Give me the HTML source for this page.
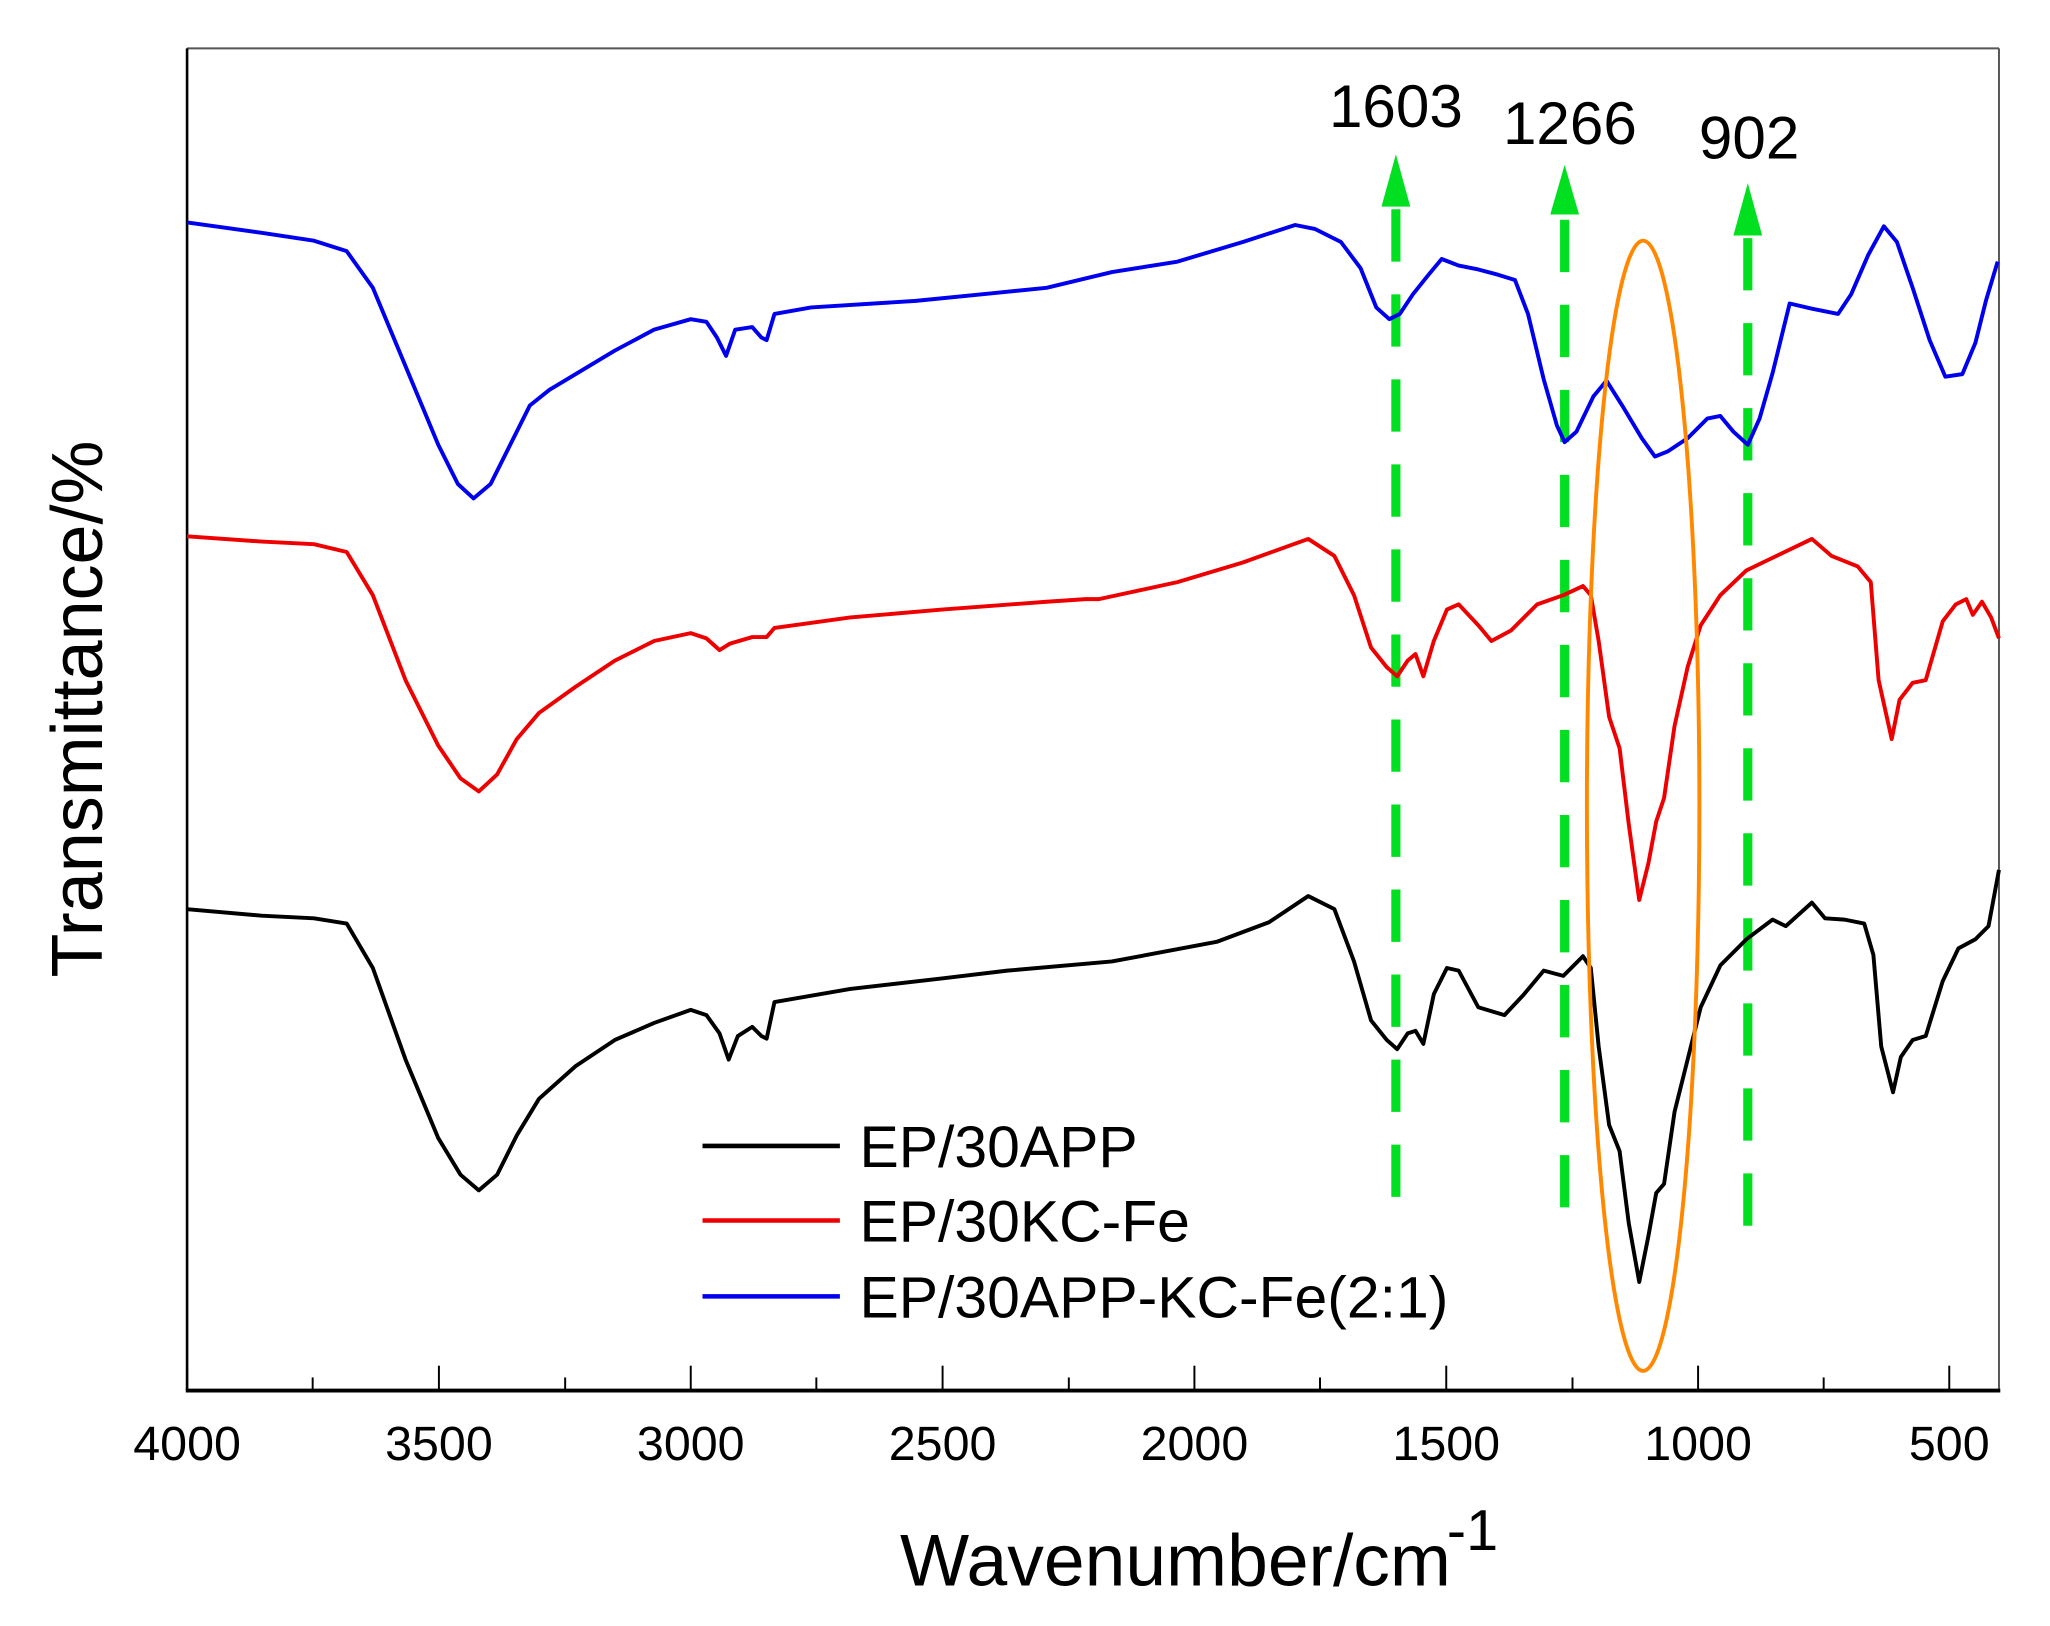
<!DOCTYPE html>
<html><head><meta charset="utf-8"><style>
html,body{margin:0;padding:0;background:#fff;}
svg{display:block;}
text{font-family:"Liberation Sans",Arial,sans-serif;fill:#000;}
</style></head><body>
<svg width="2050" height="1626" viewBox="0 0 1567 1243" preserveAspectRatio="none" xmlns="http://www.w3.org/2000/svg">
<rect x="0" y="0" width="1567" height="1243" fill="#fff"/>
<!-- frame -->
<line x1="143" y1="37" x2="1528" y2="37" stroke="#555" stroke-width="1.5"/>
<line x1="1528" y1="37" x2="1528" y2="1063" stroke="#555" stroke-width="1.5"/>
<line x1="143" y1="37" x2="143" y2="1063" stroke="#000" stroke-width="2"/>
<line x1="142" y1="1063" x2="1529" y2="1063" stroke="#000" stroke-width="3"/>
<!-- ticks -->
<g stroke="#000" stroke-width="1.5">
<line x1="143" y1="1063" x2="143" y2="1044"/>
<line x1="239" y1="1063" x2="239" y2="1053"/>
<line x1="335.5" y1="1063" x2="335.5" y2="1044"/>
<line x1="432" y1="1063" x2="432" y2="1053"/>
<line x1="528" y1="1063" x2="528" y2="1044"/>
<line x1="624" y1="1063" x2="624" y2="1053"/>
<line x1="720.5" y1="1063" x2="720.5" y2="1044"/>
<line x1="817" y1="1063" x2="817" y2="1053"/>
<line x1="913" y1="1063" x2="913" y2="1044"/>
<line x1="1009" y1="1063" x2="1009" y2="1053"/>
<line x1="1105.5" y1="1063" x2="1105.5" y2="1044"/>
<line x1="1202" y1="1063" x2="1202" y2="1053"/>
<line x1="1298" y1="1063" x2="1298" y2="1044"/>
<line x1="1394" y1="1063" x2="1394" y2="1053"/>
<line x1="1490" y1="1063" x2="1490" y2="1044"/>
</g>
<g font-size="37" text-anchor="middle">
<text x="143" y="1116">4000</text><text x="335.5" y="1116">3500</text><text x="528" y="1116">3000</text>
<text x="720.5" y="1116">2500</text><text x="913" y="1116">2000</text><text x="1105.5" y="1116">1500</text>
<text x="1298" y="1116">1000</text><text x="1490" y="1116">500</text>
</g>
<text x="688" y="1212" font-size="56">Wavenumber/cm</text>
<text x="1106" y="1185" font-size="44">-1</text>
<text transform="translate(78,542) rotate(-90)" font-size="55" text-anchor="middle">Transmittance/%</text>

<!-- green markers -->
<g stroke="#00e020" stroke-width="7" stroke-dasharray="40,25" fill="none">
<line x1="1067" y1="160" x2="1067" y2="915"/>
<line x1="1196" y1="168" x2="1196" y2="925"/>
<line x1="1336" y1="182" x2="1336" y2="940"/>
</g>
<g fill="#00e020">
<polygon points="1067,118 1056,158 1078,158"/>
<polygon points="1196,126 1185,164 1207,164"/>
<polygon points="1336,140 1325,180 1347,180"/>
</g>
<g font-size="46" text-anchor="middle">
<text x="1067" y="97">1603</text><text x="1200" y="110">1266</text><text x="1337" y="121">902</text>
</g>

<!-- curves -->
<g fill="none" stroke-width="3" stroke-linejoin="round">
<polyline stroke="#0000ee" points="143,170 200,178 240,184 265,192 285,220 310,280 335,340 350,370 362,381 375,370 390,340 405,310 420,298 445,283 470,268 500,252 528,244 540,246 548,258 555,272 562,252 575,250 582,258 586,260 592,240 620,235 700,230 760,224 800,220 850,208 900,200 950,185 990,172 1005,175 1025,185 1040,205 1052,235 1062,244 1070,240 1080,225 1092,210 1102,198 1115,203 1130,206 1145,210 1158,214 1168,240 1180,290 1190,325 1196,338 1205,330 1218,303 1228,291 1240,310 1255,335 1265,349 1275,345 1290,335 1305,320 1315,318 1325,330 1336,340 1345,320 1355,285 1368,232 1385,236 1405,240 1415,225 1428,195 1440,173 1450,185 1462,220 1475,260 1487,288 1500,286 1510,262 1518,230 1524,210 1527,200"/>
<polyline stroke="#ee0000" points="143,410 200,414 240,416 265,422 285,455 310,520 335,570 352,595 366,605 380,592 395,565 412,545 440,525 470,505 500,490 528,484 540,488 550,497 558,492 575,487 586,487 592,480 650,472 720,466 800,460 830,458 840,458 900,445 950,430 1000,412 1020,425 1035,455 1048,495 1060,510 1068,517 1076,505 1082,500 1088,517 1096,490 1106,466 1115,462 1130,478 1140,490 1155,482 1175,462 1195,455 1210,448 1216,455 1222,490 1230,548 1238,572 1245,630 1253,688 1260,660 1266,628 1272,610 1280,555 1290,510 1300,478 1315,455 1335,436 1360,424 1385,412 1400,425 1420,433 1430,445 1436,520 1446,565 1452,535 1462,522 1472,520 1485,475 1495,462 1503,458 1508,470 1515,460 1522,472 1528,488"/>
<polyline stroke="#000000" points="143,695 200,700 240,702 265,706 285,740 310,810 335,870 352,898 366,910 380,898 395,868 412,840 440,815 470,795 500,782 528,772 540,776 550,790 557,810 564,792 575,785 582,792 586,794 592,766 650,756 720,748 770,742 850,735 930,720 970,705 1000,685 1020,695 1035,735 1048,780 1060,795 1068,802 1076,790 1082,788 1088,798 1096,760 1106,740 1115,742 1130,770 1150,776 1165,760 1180,742 1195,746 1210,731 1216,740 1222,800 1230,860 1238,880 1245,935 1253,980 1260,945 1266,912 1272,905 1280,850 1290,810 1300,770 1315,738 1335,718 1355,703 1365,708 1385,690 1395,702 1410,703 1425,706 1432,730 1438,800 1447,835 1453,808 1462,795 1472,792 1485,750 1497,725 1510,718 1520,708 1528,665"/>
</g>
<ellipse cx="1256" cy="616" rx="43" ry="432" fill="none" stroke="#ff8800" stroke-width="3"/>

<!-- legend -->
<g stroke-width="3.5">
<line x1="537" y1="876" x2="642" y2="876" stroke="#000"/>
<line x1="537" y1="933" x2="642" y2="933" stroke="#ee0000"/>
<line x1="537" y1="991" x2="642" y2="991" stroke="#0000ee"/>
</g>
<g font-size="45">
<text x="657" y="892">EP/30APP</text>
<text x="657" y="949">EP/30KC-Fe</text>
<text x="657" y="1007">EP/30APP-KC-Fe(2:1)</text>
</g>
</svg>
</body></html>
